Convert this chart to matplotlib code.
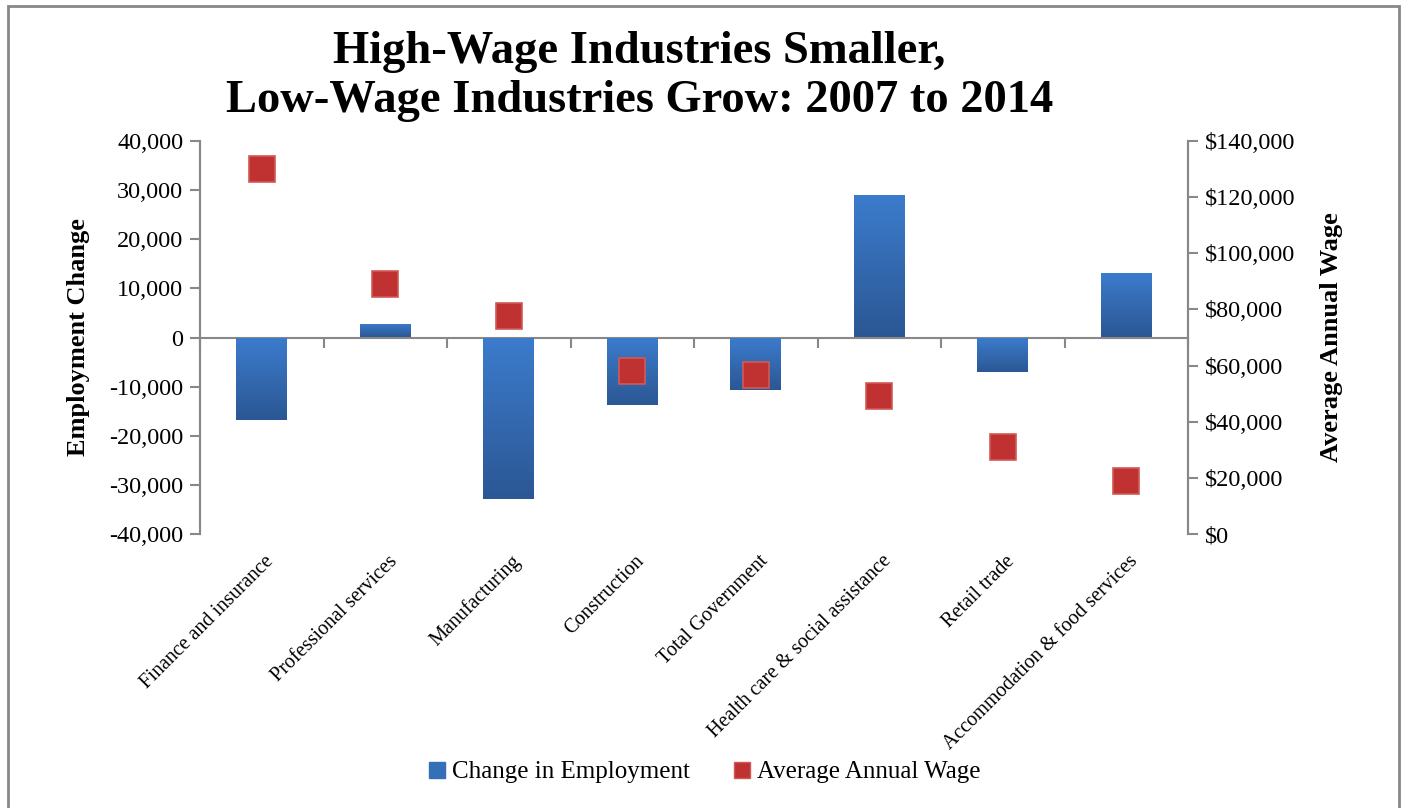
import numpy as np
import matplotlib
matplotlib.use("Agg")
import matplotlib.pyplot as plt
from matplotlib.lines import Line2D
from matplotlib.patches import Rectangle
from matplotlib.colors import LinearSegmentedColormap
import matplotlib.transforms as mtransforms

plt.rcParams['font.family'] = ['Liberation Serif', 'DejaVu Serif']

industries = ["Finance and insurance", "Professional services", "Manufacturing",
              "Construction", "Total Government", "Health care & social assistance",
              "Retail trade", "Accommodation & food services"]
employment_change = [-16700, 2700, -32800, -13700, -10700, 29100, -7100, 13200]
average_wage = [130000, 89000, 77500, 58000, 56500, 49000, 31000, 19000]

left_ticks = [-40000, -30000, -20000, -10000, 0, 10000, 20000, 30000, 40000]
right_ticks = [0, 20000, 40000, 60000, 80000, 100000, 120000, 140000]

W, H = 1405, 808
fig = plt.figure(figsize=(W / 100, H / 100), dpi=100)
fig.patch.set_facecolor("white")

# outer chart frame
fig.add_artist(Rectangle((8 / W, -0.01), (1399 - 8) / W, 1.01 - 6 / H,
                         transform=fig.transFigure, fill=False,
                         edgecolor="#888888", linewidth=2))

ax = fig.add_axes([200 / W, 1 - 534 / H, 988 / W, (534 - 141) / H])
ax2 = ax.twinx()

x = np.arange(len(industries))
grey = "#888888"

blue_grad = LinearSegmentedColormap.from_list("bg", ["#2b5794", "#3c7ccd"])
bars = ax.bar(x, employment_change, width=0.41, color="#3470b8", zorder=2)
grad = np.linspace(0, 1, 256).reshape(-1, 1)
for b in bars:
    bx, by = b.get_x(), b.get_y()
    bw, bh = b.get_width(), b.get_height()
    y0, y1 = min(by, by + bh), max(by, by + bh)
    im = ax.imshow(grad, cmap=blue_grad, aspect="auto", origin="lower",
                   extent=[bx, bx + bw, y0, y1], zorder=3)
    im.set_clip_path(b)

ax.set_xlim(-0.5, len(industries) - 0.5)
ax.set_ylim(-40000, 40000)
ax.set_yticks(left_ticks)
ax.set_yticklabels([f"{v:,}" for v in left_ticks], fontsize=17.5)
ax.set_ylabel("Employment Change", fontsize=19, fontweight="bold", labelpad=14)

ax.spines["top"].set_visible(False)
ax2.spines["top"].set_visible(False)
ax.spines["bottom"].set_position(("data", 0))
for s in ["left", "right", "bottom"]:
    ax.spines[s].set_color(grey)
    ax.spines[s].set_linewidth(1.5)
    ax2.spines[s].set_color(grey)
    ax2.spines[s].set_linewidth(1.5)
ax2.spines["bottom"].set_visible(False)

ax.set_xticks(np.arange(len(industries) + 1) - 0.5)
ax.set_xticklabels([])
ax.tick_params(axis="x", direction="out", length=7, width=1.5, color=grey)
ax.tick_params(axis="y", direction="out", length=7, width=1.5, color=grey, pad=5)

# category labels below the plot area
trans = mtransforms.blended_transform_factory(ax.transData, ax.transAxes)
for i, name in enumerate(industries):
    ax.text(i + 0.02, -0.045, name, transform=trans, rotation=45,
            ha="right", va="top", rotation_mode="anchor", fontsize=14.5)

ax2.plot(x, average_wage, linestyle="none", marker="s", markersize=19,
         markerfacecolor="#bf3231", markeredgecolor="#d05a58", markeredgewidth=1.2,
         zorder=5)
ax2.set_ylim(0, 140000)
ax2.set_yticks(right_ticks)
ax2.set_yticklabels([f"${v:,}" for v in right_ticks], fontsize=17.5)
ax2.tick_params(axis="y", direction="out", length=7, width=1.5, color=grey, pad=5)
ax2.set_ylabel("Average Annual Wage", fontsize=19, fontweight="bold",
               rotation=90, labelpad=18)

fig.text(0.455, 0.962, "High-Wage Industries Smaller,\nLow-Wage Industries Grow: 2007 to 2014",
         ha="center", va="top", fontsize=33.5, fontweight="bold", linespacing=1.22)

handles = [Line2D([], [], linestyle="none", marker="s", markersize=12,
                  markerfacecolor="#3470b8", markeredgecolor="#3470b8"),
           Line2D([], [], linestyle="none", marker="s", markersize=12,
                  markerfacecolor="#bf3231", markeredgecolor="#d05a58")]
fig.legend(handles, ["Change in Employment", "Average Annual Wage"],
           loc="center", bbox_to_anchor=(0.5, 1 - 772 / H), ncol=2, frameon=False,
           fontsize=18, handletextpad=0.1, columnspacing=1.6, handlelength=1.0)

fig.savefig("out.png", dpi=100)
